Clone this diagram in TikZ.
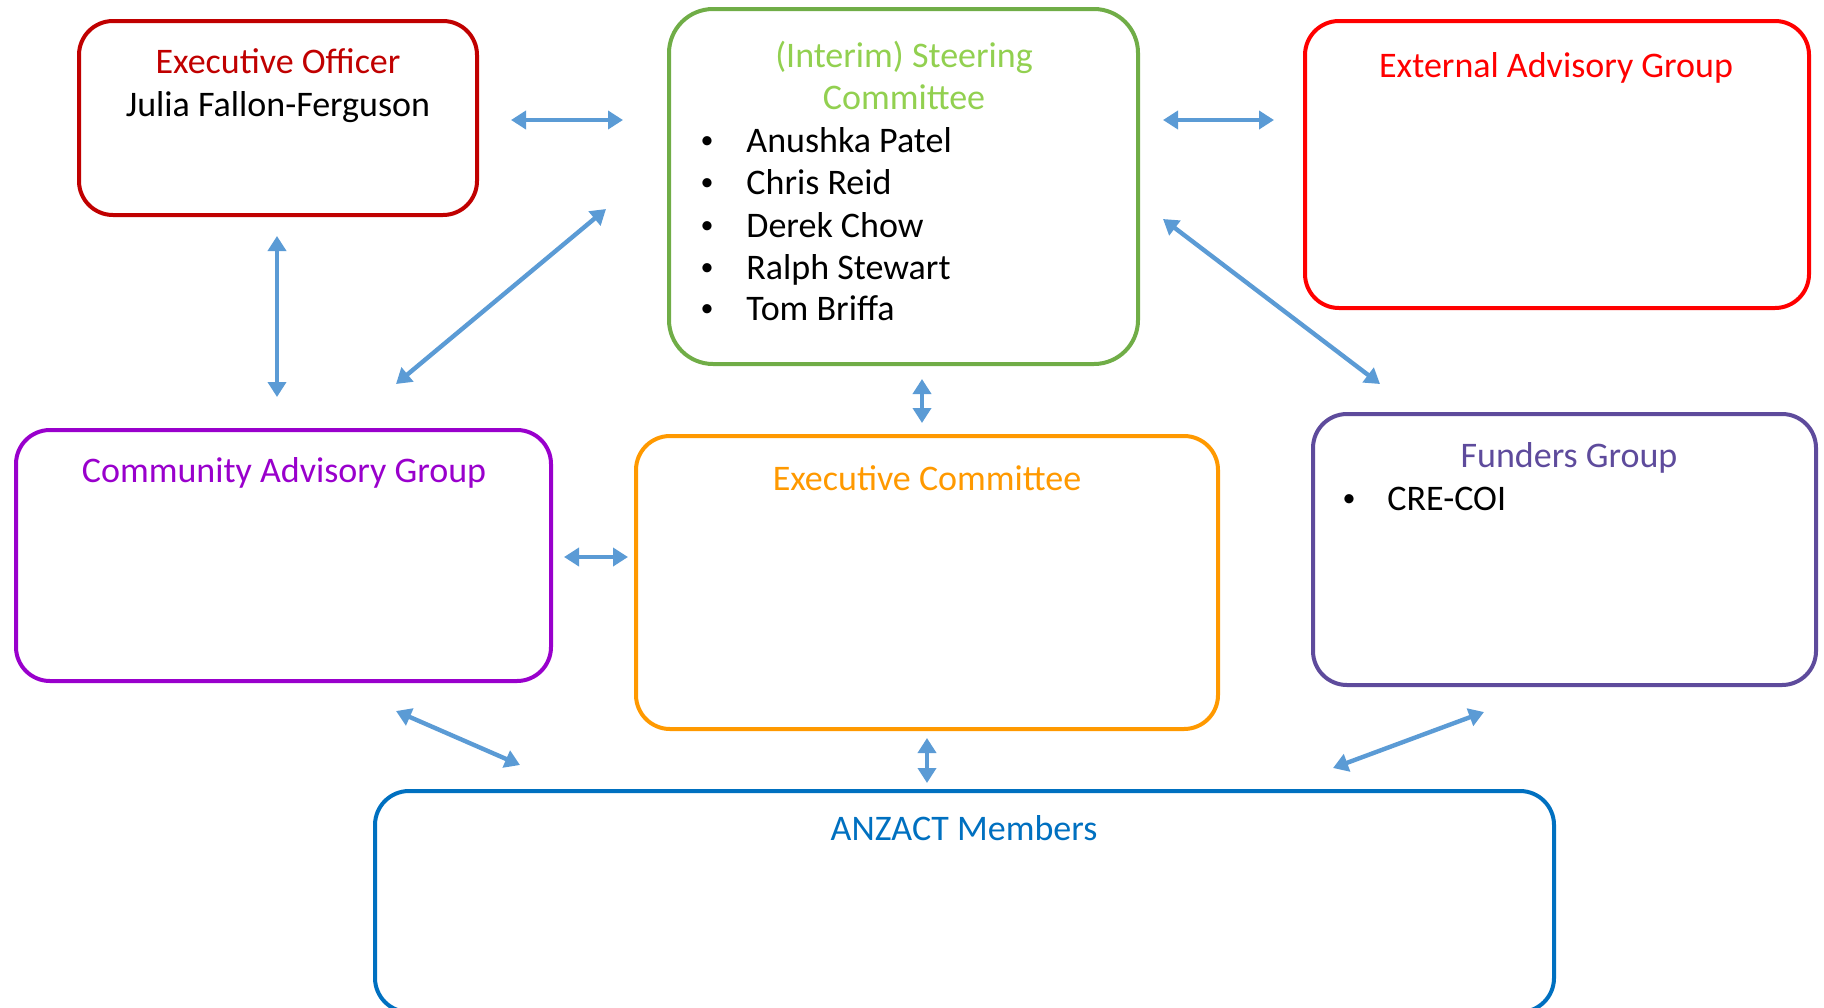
\documentclass[tikz,border=0pt]{standalone}
\usepackage{fontspec}
\setmainfont{Carlito}
\usetikzlibrary{arrows.meta}
\definecolor{eoRed}{HTML}{C00000}
\definecolor{scGreen}{HTML}{70AD47}
\definecolor{scTitle}{HTML}{92D050}
\definecolor{eagRed}{HTML}{FF0000}
\definecolor{cagPurple}{HTML}{9900CC}
\definecolor{ecOrange}{HTML}{FF9900}
\definecolor{fgPurple}{HTML}{5E4B9C}
\definecolor{anzBlue}{HTML}{0070C0}
\definecolor{arrowBlue}{HTML}{5B9BD5}
\newcommand{\bulletmark}{\raisebox{1.6pt}{\fontsize{13}{13}\selectfont •}}
\begin{document}
\begin{tikzpicture}[x=0.5pt,y=-0.5pt,
  box/.style={draw, line width=2pt, rounded corners=17pt, inner sep=0pt, outer sep=0pt},
  ttl/.style={font=\fontsize{18}{21}\selectfont, anchor=base, inner sep=0pt},
  txt/.style={font=\fontsize{18}{21}\selectfont, anchor=base, inner sep=0pt, text=black},
  itm/.style={font=\fontsize{18}{21}\selectfont, anchor=base west, inner sep=0pt, text=black},
  bul/.style={anchor=base, inner sep=0pt, text=black},
  link/.style={draw=arrowBlue, line width=2.2pt, {Triangle[length=7.5pt,width=9pt]}-{Triangle[length=7.5pt,width=9pt]}}]
\useasboundingbox (0,0) rectangle (1824,1007);
\clip (0,0) rectangle (1824,1007);
% boxes
\node[box, draw=eoRed, minimum width=199pt, minimum height=97pt] (eo) at (278,118) {};
\node[box, draw=scGreen, minimum width=234.5pt, minimum height=177.5pt, rounded corners=22pt] (sc) at (903.5,186.5) {};
\node[box, draw=eagRed, minimum width=252pt, minimum height=143.5pt] (eag) at (1557,164.5) {};
\node[box, draw=cagPurple, minimum width=267.5pt, minimum height=125.5pt] (cag) at (283.5,555.5) {};
\node[box, draw=ecOrange, minimum width=291pt, minimum height=146.5pt] (ec) at (927,582.5) {};
\node[box, draw=fgPurple, minimum width=251.5pt, minimum height=135.5pt] (fg) at (1564.5,549.5) {};
\node[box, draw=anzBlue, minimum width=589.5pt, minimum height=110.5pt] (anz) at (964.5,901.5) {};
% texts
\node[ttl, text=eoRed] (eoT) at (278,73) {Executive Officer};
\node[txt] (eoN) at (278,116) {Julia Fallon-Ferguson};
\node[ttl, text=scTitle] (scT1) at (904,67) {(Interim) Steering};
\node[ttl, text=scTitle] (scT2) at (904,109) {Committee};
\node[bul] (sb1) at (707,152) {\bulletmark};
\node[itm] (sn1) at (746,152) {Anushka Patel};
\node[bul] (sb2) at (707,194) {\bulletmark};
\node[itm] (sn2) at (746,194) {Chris Reid};
\node[bul] (sb3) at (707,237) {\bulletmark};
\node[itm] (sn3) at (746,237) {Derek Chow};
\node[bul] (sb4) at (707,279) {\bulletmark};
\node[itm] (sn4) at (746,279) {Ralph Stewart};
\node[bul] (sb5) at (707,320) {\bulletmark};
\node[itm] (sn5) at (746,320) {Tom Briffa};
\node[ttl, text=eagRed] (eagT) at (1556,77) {External Advisory Group};
\node[ttl, text=cagPurple] (cagT) at (284,482) {Community Advisory Group};
\node[ttl, text=ecOrange] (ecT) at (927,490) {Executive Committee};
\node[ttl, text=fgPurple] (fgT) at (1569,467) {Funders Group};
\node[bul] (fb1) at (1349,510) {\bulletmark};
\node[itm] (fn1) at (1387,510) {CRE-COI};
\node[ttl, text=anzBlue] (anzT) at (964,840) {ANZACT Members};
% connector end points
\coordinate (a1s) at (511,120);  \coordinate (a1e) at (623,120);
\coordinate (a2s) at (1163,120); \coordinate (a2e) at (1274,120);
\coordinate (a3s) at (277,236);  \coordinate (a3e) at (277,397);
\coordinate (a4s) at (396,384);  \coordinate (a4e) at (606,209);
\coordinate (a5s) at (1163,219); \coordinate (a5e) at (1380,384);
\coordinate (a6s) at (922,379);  \coordinate (a6e) at (922,423);
\coordinate (a7s) at (564,557);  \coordinate (a7e) at (628,557);
\coordinate (a8s) at (396,711);  \coordinate (a8e) at (520,765);
\coordinate (a9s) at (927,738);  \coordinate (a9e) at (927,783);
\coordinate (a10s) at (1484,712); \coordinate (a10e) at (1333,768);
\draw[link] (a1s) -- (a1e);
\draw[link] (a2s) -- (a2e);
\draw[link] (a3s) -- (a3e);
\draw[link] (a4s) -- (a4e);
\draw[link] (a5s) -- (a5e);
\draw[link] (a6s) -- (a6e);
\draw[link] (a7s) -- (a7e);
\draw[link] (a8s) -- (a8e);
\draw[link] (a9s) -- (a9e);
\draw[link] (a10s) -- (a10e);
\end{tikzpicture}
\end{document}
